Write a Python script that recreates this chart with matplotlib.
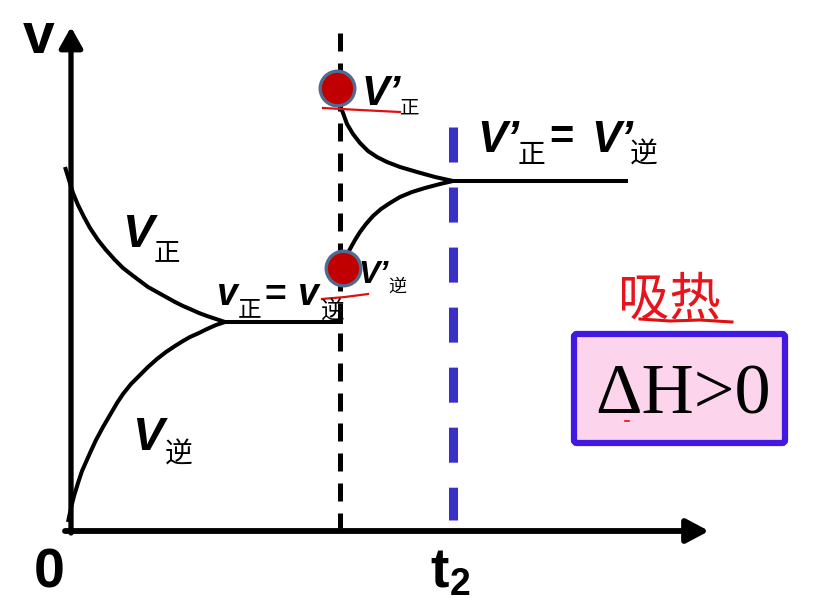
import matplotlib.pyplot as plt
from matplotlib.patches import FancyBboxPatch

# schematic drawn in image units (x to the right, y downward)
# first equilibrium: forward / reverse rates
t_fwd = [65, 69, 73, 78, 84, 90, 98, 106, 115, 123, 132, 140, 148, 157,
         166, 175, 183, 190, 199, 207, 216, 225]
v_fwd = [167, 180, 193, 205, 217, 228, 240, 250, 260, 268, 275, 281, 287, 292,
         297, 302, 306, 309, 313, 316, 319, 322]
t_rev = [68, 71, 74, 78, 82, 86, 90, 96, 103, 110, 117, 123, 131, 140, 148,
         157, 166, 175, 183, 190, 199, 207, 216, 225]
v_rev = [522, 508, 496, 483, 471, 462, 453, 440, 427, 415, 403, 394, 384, 375, 367,
         359, 352, 346, 341, 337, 333, 329, 325, 322]
t_eq1 = [225, 343]
v_eq1 = [322, 322]

# after the temperature change
t_fwd2 = [338, 343, 347, 353, 360, 368, 377, 387, 400, 417, 435, 453]
v_fwd2 = [100, 113, 124, 134, 143, 151, 157, 162, 167, 172, 177, 181]
t_rev2 = [345, 350, 355, 360, 366, 373, 381, 390, 400, 412, 425, 440, 453]
v_rev2 = [258, 249, 240, 232, 224, 216, 209, 203, 197, 192, 188, 184, 181]
t_eq2 = [453, 628]
v_eq2 = [181, 181]

# jump points (red dots)
t_jump = [337, 343]
v_jump = [88, 268]

t_change = 340   # black dashed line
t2 = 453         # blue dashed line

cjk = ['Noto Sans CJK SC', 'DejaVu Sans']

fig = plt.figure(figsize=(8.31, 6.04), dpi=100)
ax = fig.add_axes([0, 0, 1, 1])
ax.set_xlim(0, 831)
ax.set_ylim(604, 0)
ax.axis('off')

# axes with arrows
ax.annotate('', xy=(71, 27), xytext=(71, 533),
            arrowprops=dict(arrowstyle='-|>,head_length=1.25,head_width=0.7',
                            lw=3.8, color='black', mutation_scale=10, shrinkA=0, shrinkB=0))
ax.annotate('', xy=(709, 531), xytext=(65, 531),
            arrowprops=dict(arrowstyle='-|>,head_length=1.35,head_width=0.72',
                            lw=4.2, color='black', mutation_scale=10, shrinkA=0, shrinkB=0))

# dashed guide lines
ax.plot([t_change, t_change], [33, 528], color='black', lw=3.6,
        linestyle=(0, (3.6, 2.4)))
ax.plot([t2, t2], [127, 520], color='#3a30c8', lw=6.5,
        linestyle=(0, (3.88, 2.77)))

# rate curves
for xs, ys in [(t_fwd, v_fwd), (t_rev, v_rev), (t_eq1, v_eq1),
               (t_fwd2, v_fwd2), (t_rev2, v_rev2), (t_eq2, v_eq2)]:
    ax.plot(xs, ys, color='black', lw=2.9, solid_capstyle='butt',
            solid_joinstyle='round')

# red hand-drawn underlines
ax.plot([323, 360, 400], [108, 110, 112], color='#e01010', lw=1.6)
ax.plot([322, 345, 368], [299, 297, 294], color='#e01010', lw=1.6)
ax.plot([640, 670, 700, 732], [319, 321, 320, 322], color='#e01010', lw=2.2)
ax.plot([625, 629], [421, 421], color='#e01010', lw=1.2)

ax.scatter(t_jump, v_jump, s=620, color='#c00000', edgecolor='#4f6b8f',
           linewidth=2.4, zorder=5)

# labels
bi = dict(fontfamily='Liberation Sans', fontweight='bold', ha='left', va='baseline')
bii = dict(bi, fontstyle='italic')
sub = dict(family=cjk, ha='left', va='baseline')

ax.text(23, 53, 'v', fontsize=41, **bi)
ax.text(34, 588, '0', fontsize=40, **bi)
ax.text(430, 587, 't', fontsize=40, **bi)
ax.text(450, 595, '2', fontsize=27, **bi)

ax.text(122, 247, 'V', fontsize=34, **bii)
ax.text(154, 260, '正', fontsize=19, **sub)
ax.text(132, 450, 'V', fontsize=34, **bii)
ax.text(165, 463, '逆', fontsize=20, **sub)

ax.text(217, 305, 'v', fontsize=27, **bii)
ax.text(238, 316, '正', fontsize=17, **sub)
ax.text(264, 306, '=', fontsize=27, **bi)
ax.text(298, 305, 'v', fontsize=27, **bii)
ax.text(321, 318, '逆', fontsize=17, **sub)

ax.text(362, 105, 'V’', fontsize=30, **bii)
ax.text(400, 114, '正', fontsize=14, **sub)
ax.text(358, 283, 'V’', fontsize=23, **bii)
ax.text(388, 292, '逆', fontsize=13, **sub)

ax.text(477, 152, 'V’', fontsize=32, **bii)
ax.text(518, 163, '正', fontsize=20, **sub)
ax.text(549, 149, '=', fontsize=30, **bi)
ax.text(591, 152, 'V’', fontsize=32, **bii)
ax.text(630, 163, '逆', fontsize=20, **sub)

ax.text(618, 314, '吸热', fontsize=37, color='#e8141c', family=cjk,
        ha='left', va='baseline')

box = FancyBboxPatch((574, 334), 211, 109, boxstyle='round,pad=0,rounding_size=3',
                     facecolor='#fcd5ec', edgecolor='#4219e0', lw=4.5)
ax.add_patch(box)
ax.text(683, 414, 'ΔH>0', fontsize=52, fontfamily='Liberation Serif',
        ha='center', va='baseline')

fig.savefig('out.png', dpi=100)
